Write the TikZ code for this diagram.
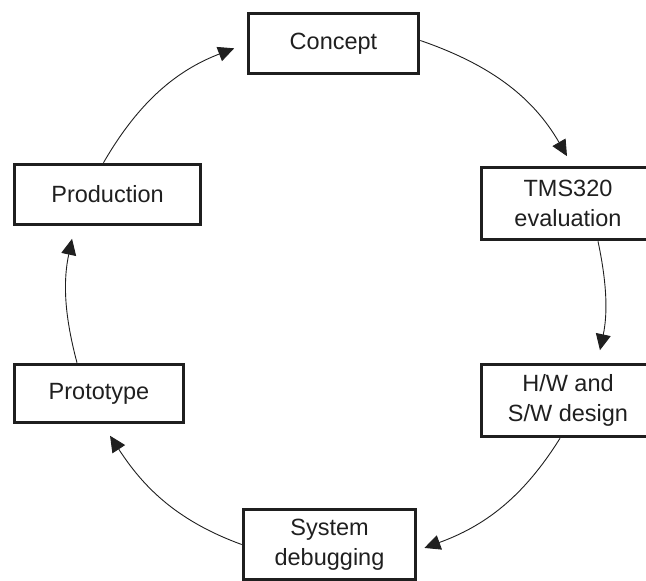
\documentclass[tikz,border=0pt]{standalone}
\usepackage{fontspec}
\setmainfont{Liberation Sans}
\usetikzlibrary{arrows.meta}
\tikzstyle{stage}=[draw=black!88,line width=3.6pt,minimum height=60pt,align=center,text=black!88,font=\fontsize{23.5}{30}\selectfont]
\tikzstyle{flow}=[draw=black!88,line width=0.9pt,-{Triangle[length=16pt,width=15pt]}]

\begin{document}
\begin{tikzpicture}[x=1pt,y=1pt]

    \clip (0,0) rectangle (646,-581);

    \node[stage, minimum width=170pt] (concept) at (333.5,-43.5) {Concept};
    \node[stage, minimum width=173pt, minimum height=72pt] (tms) at (568,-203.5) {TMS320\\evaluation};
    \node[stage, minimum width=173pt, minimum height=72pt] (hw) at (568,-400.5) {H/W and\\S/W design};
    \node[stage, minimum width=172pt, minimum height=70pt] (debug) at (329.5,-544.5) {System\\debugging};
    \node[stage, minimum width=169pt, minimum height=58pt] (proto) at (99,-393.5) {Prototype};
    \node[stage, minimum width=186pt] (prod) at (107.5,-194.5) {Production};

    \draw[flow, shorten >=11pt] ([yshift=3pt]concept.east) to[out=-19, in=120] ([xshift=4.5pt]tms.north);
    \draw[flow, shorten >=12.8pt] ([xshift=30pt]tms.south) to[out=-78, in=78] ([xshift=29.3pt]hw.north);
    \draw[flow, shorten >=7.5pt] ([xshift=-8pt]hw.south) to[out=-122, in=20] ([yshift=-6pt]debug.east);
    \draw[flow, shorten >=13.7pt] (debug.west) to[out=160, in=-57] ([xshift=3.6pt]proto.south);
    \draw[flow, shorten >=12.8pt] ([xshift=-22pt]proto.north) to[out=105, in=-102] ([xshift=-32.8pt]prod.south);
    \draw[flow, shorten >=13.4pt] ([xshift=-4pt]prod.north) to[out=60, in=201] (concept.west);

\end{tikzpicture}
\end{document}
